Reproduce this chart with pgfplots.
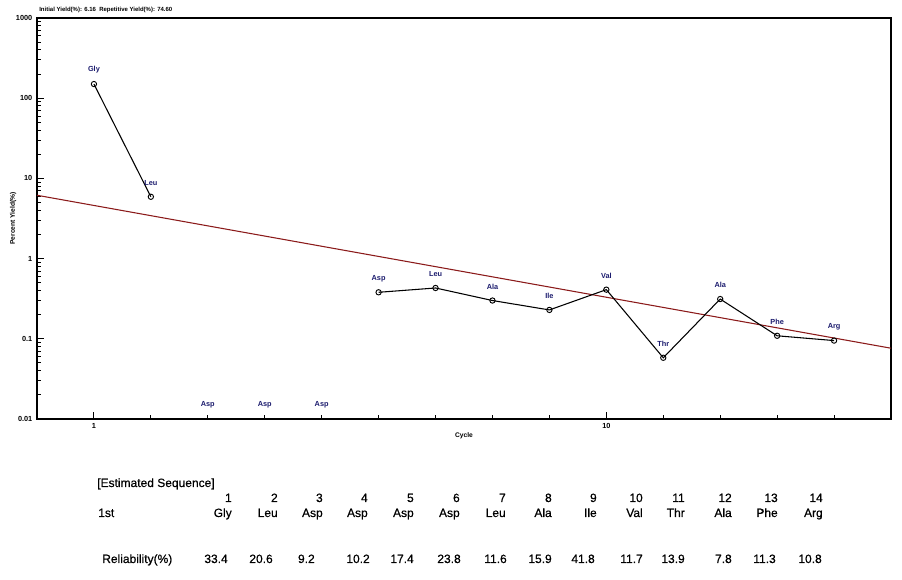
\documentclass[border=0pt]{standalone}
\usepackage{pgfplots}
\pgfplotsset{compat=1.18}
\usepackage{fontspec}
\setmainfont{Liberation Sans}
\newfontfamily\tabfamily[FakeBold=0.6]{Liberation Sans}
\definecolor{lblnavy}{HTML}{1C1C6E}
\definecolor{fitred}{HTML}{8B1A1A}

% yield per cycle; nan where no residue was found
\pgfplotstableread{
x y label
1 150 Gly
2 5.9 Leu
3 nan Asp
4 nan Asp
5 nan Asp
6 0.38 Asp
7 0.43 Leu
8 0.30 Ala
9 0.229 Ile
10 0.41 Val
11 0.058 Thr
12 0.313 Ala
13 0.109 Phe
14 0.095 Arg
}\yieldtable

\pgfplotstableread{
x y label
3 0.0149 Asp
4 0.0149 Asp
5 0.0149 Asp
}\missingtable

\newcommand{\tabfont}{\tabfamily\fontsize{9}{10}\selectfont}

\begin{document}
\begin{tikzpicture}
\path[use as bounding box] (0,0) rectangle (676.5pt,435pt);
\begin{axis}[
  at={(27.75pt,120.75pt)}, anchor=south west,
  width=640.5pt, height=300.75pt, scale only axis,
  ymode=log, xmin=0, xmax=15, ymin=0.01, ymax=1000,
  axis line style={line width=1.5pt},
  xtick={1,10}, minor xtick={2,3,4,5,6,7,8,9,11,12,13,14},
  ytick={0.01,0.1,1,10,100,1000},
  yticklabels={0.01,0.1,1,10,100,1000},
  minor ytick={0.02,0.03,0.04,0.05,0.06,0.07,0.08,0.09,
               0.2,0.3,0.4,0.5,0.6,0.7,0.8,0.9,
               2,3,4,5,6,7,8,9,20,30,40,50,60,70,80,90,
               200,300,400,500,600,700,800,900},
  xtick pos=bottom, ytick pos=left,
  tick align=inside,
  major tick length=5pt, minor tick length=3pt,
  tick style={black, line width=0.7pt},
  tick label style={font=\fontsize{5.5}{6}\selectfont\bfseries},
  /pgf/number format/assume math mode=true,
  xlabel={Cycle}, ylabel={Percent Yield(\%)},
  label style={font=\fontsize{5}{6}\selectfont\bfseries},
  xlabel style={at={(axis description cs:0.5,-0.042)}, anchor=center},
  ylabel style={at={(axis description cs:-0.028,0.5)}, anchor=center},
  unbounded coords=jump,
  clip=false,
]
\addplot[fitred, line width=0.8pt] coordinates {(0,6.16) (15,0.0763)};

\addplot[black, line width=0.8pt, mark=o, mark size=2pt,
  mark options={line width=0.7pt},
  nodes near coords, point meta=explicit symbolic,
  nodes near coords style={font=\fontsize{5.5}{6}\selectfont\bfseries,
    text=lblnavy, anchor=center, yshift=10.5pt}]
  table[x=x, y=y, meta=label] {\yieldtable};

\addplot[draw=none, mark=none,
  nodes near coords, point meta=explicit symbolic,
  nodes near coords style={font=\fontsize{5.5}{6}\selectfont\bfseries,
    text=lblnavy, anchor=center}]
  table[x=x, y=y, meta=label] {\missingtable};
\end{axis}

\node[anchor=west, inner sep=0pt, font=\fontsize{4.5}{5}\selectfont\bfseries]
  at (29.25pt,427.5pt) {Initial Yield(\%): 6.16\ \ Repetitive Yield(\%): 74.60};

\begin{scope}[x=0.75pt, y=-0.75pt, shift={(0pt,435pt)}]
  \node[anchor=base west, inner sep=0pt, font=\tabfont] at (97,487) {[Estimated Sequence]};
  \node[anchor=base west, inner sep=0pt, font=\tabfont] at (98,517) {1st};
  \node[anchor=base west, inner sep=0pt, font=\tabfont] at (102,563) {Reliability(\%)};
  \foreach \n/\xr/\res/\rel/\xv in {
      1/232/Gly/33.4/228, 2/278/Leu/20.6/273, 3/323/Asp/9.2/315,
      4/368/Asp/10.2/370, 5/414/Asp/17.4/414, 6/460/Asp/23.8/461,
      7/506/Leu/11.6/507, 8/552/Ala/15.9/552, 9/597/Ile/41.8/595,
      10/643/Val/11.7/643, 11/685/Thr/13.9/685, 12/732/Ala/7.8/732,
      13/778/Phe/11.3/776, 14/823/Arg/10.8/822} {
    \node[anchor=base east, inner sep=0pt, font=\tabfont] at (\xr,502) {\n};
    \node[anchor=base east, inner sep=0pt, font=\tabfont] at (\xr,517) {\res};
    \node[anchor=base east, inner sep=0pt, font=\tabfont] at (\xv,563) {\rel};
  }
\end{scope}
\end{tikzpicture}
\end{document}
